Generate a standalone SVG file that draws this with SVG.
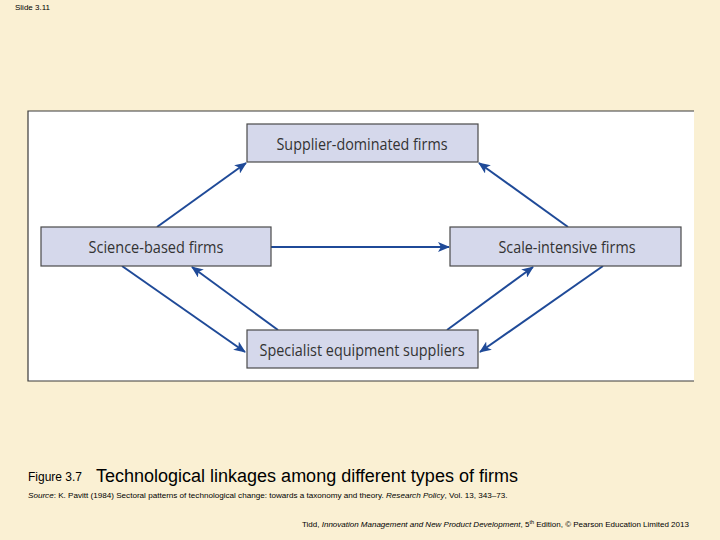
<svg xmlns="http://www.w3.org/2000/svg" width="720" height="540" viewBox="0 0 720 540">
<style>
.node rect{fill:#d5d8eb;stroke:#4a4a4a;stroke-width:1.2}
.node text{font-family:"Open Sans","Noto Sans",sans-serif;font-size:16.5px;fill:#333333;text-anchor:middle}
.conn line{stroke:#1f4a98;stroke-width:2;marker-end:url(#ah)}
.small{font-family:"Liberation Sans",Arial,sans-serif;fill:#000}
</style>
<defs>
<marker id="ah" viewBox="0 0 12 10" refX="11" refY="5" markerWidth="12" markerHeight="10" markerUnits="userSpaceOnUse" orient="auto">
<path d="M0,0 L12,5 L0,10 L3,5 Z" fill="#1f4a98"/>
</marker>
</defs>
<rect width="720" height="540" fill="#faf0d3"/>
<text class="small" x="15" y="10" font-size="8">Slide 3.11</text>
<rect x="28" y="111" width="666" height="270" fill="#ffffff"/>
<path d="M694,111 H28 V381 H694" fill="none" stroke="#3a3a3a" stroke-width="1.2"/>
<g class="conn">
<line x1="157" y1="227" x2="246" y2="163"/>
<line x1="568" y1="227" x2="479" y2="163"/>
<line x1="271" y1="247" x2="449" y2="247"/>
<line x1="122" y1="266" x2="245" y2="352"/>
<line x1="278" y1="330" x2="192" y2="267"/>
<line x1="447" y1="330" x2="533" y2="267"/>
<line x1="603" y1="266" x2="480" y2="352"/>
</g>
<g id="supplier" class="node">
<rect x="247" y="124" width="231" height="38"/>
<text x="362" y="150" textLength="171" lengthAdjust="spacingAndGlyphs">Supplier-dominated firms</text>
</g>
<g id="science" class="node">
<rect x="41" y="227" width="230" height="39"/>
<text x="156" y="253" textLength="135" lengthAdjust="spacingAndGlyphs">Science-based firms</text>
</g>
<g id="scale" class="node">
<rect x="450" y="227" width="231" height="39"/>
<text x="567" y="253" textLength="137" lengthAdjust="spacingAndGlyphs">Scale-intensive firms</text>
</g>
<g id="specialist" class="node">
<rect x="247" y="330" width="231" height="38"/>
<text x="362" y="356" textLength="205" lengthAdjust="spacingAndGlyphs">Specialist equipment suppliers</text>
</g>
<text class="small" x="28" y="481" font-size="12">Figure 3.7</text>
<text class="small" x="96" y="482" font-size="18">Technological linkages among different types of firms</text>
<text class="small" x="28" y="498" font-size="8.1"><tspan font-style="italic">Source</tspan>: K. Pavitt (1984) Sectoral patterns of technological change: towards a taxonomy and theory. <tspan font-style="italic">Research Policy</tspan>, Vol. 13, 343–73.</text>
<text class="small" x="302" y="527" font-size="8"><tspan>Tidd, </tspan><tspan font-style="italic">Innovation Management and New Product Development</tspan>, 5<tspan font-size="5.5" dy="-3">th</tspan><tspan dy="3"> Edition, © Pearson Education Limited 2013</tspan></text>
</svg>
